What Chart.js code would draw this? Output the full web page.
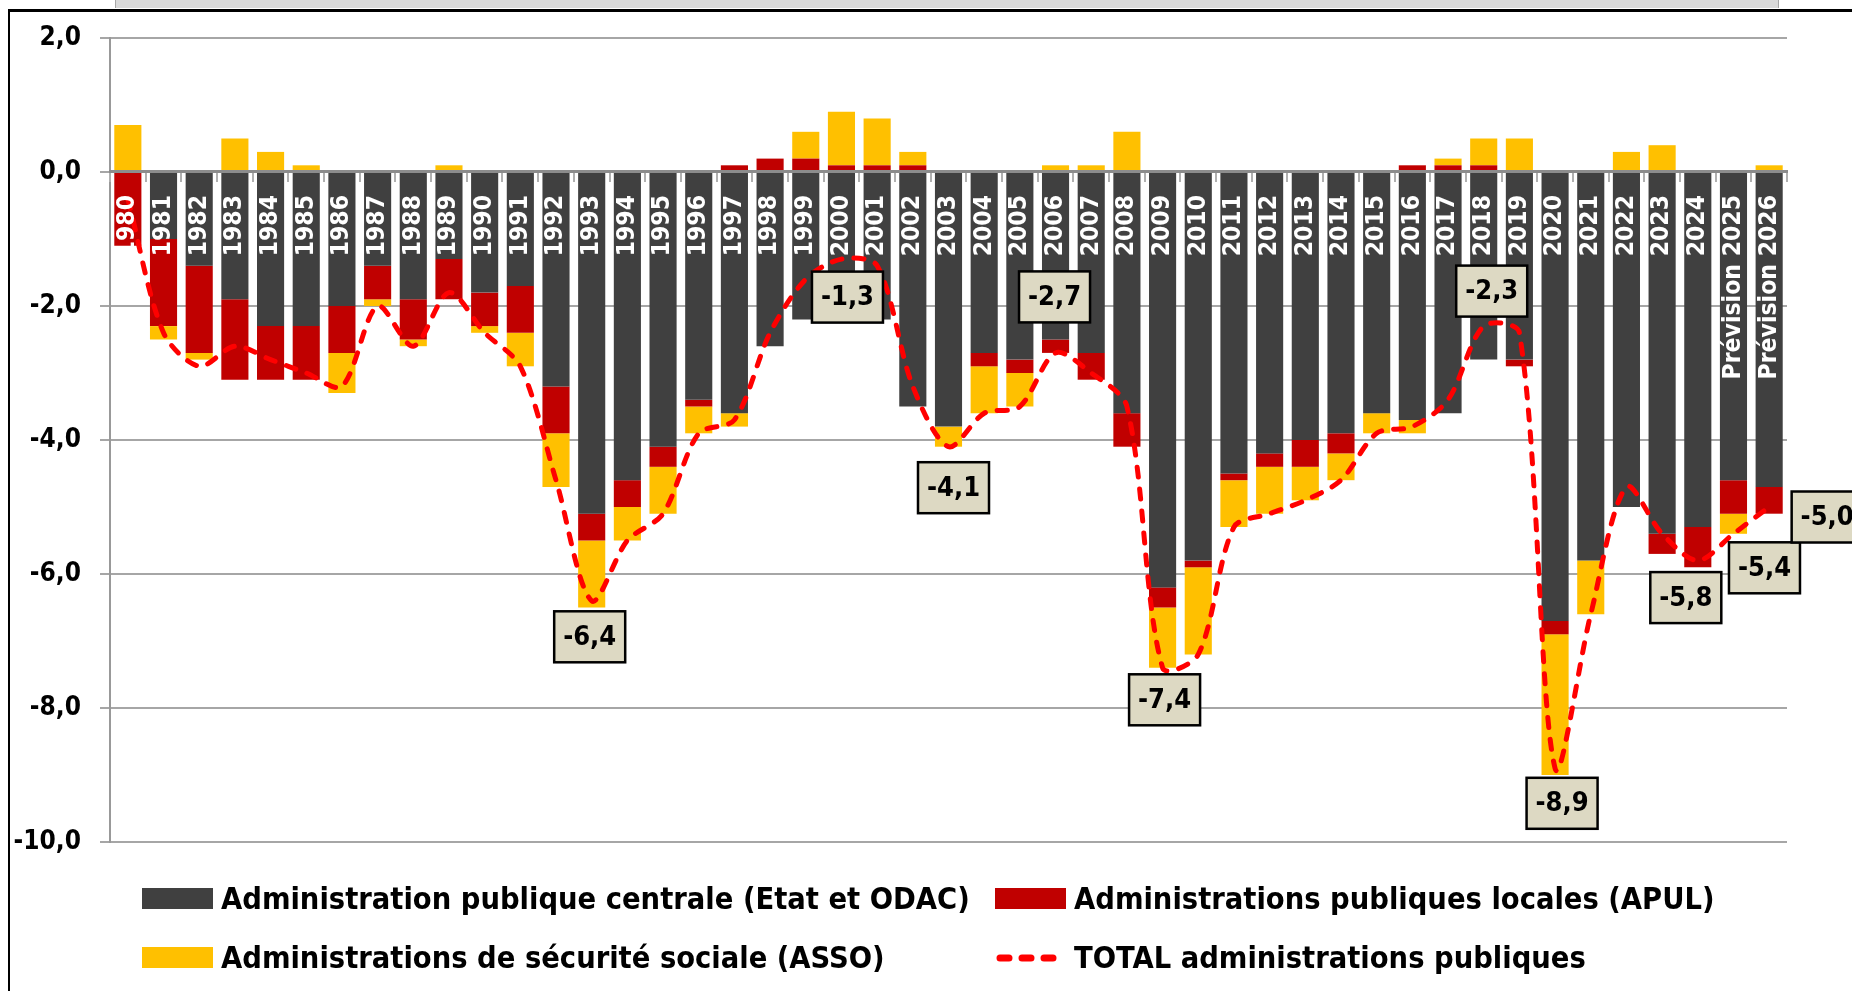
<!DOCTYPE html>
<html lang="fr">
<head>
<meta charset="utf-8">
<title>Solde des administrations publiques</title>
<script src="https://cdn.jsdelivr.net/npm/chart.js@4.4.1/dist/chart.umd.min.js"></script>
<style>
  html, body { margin: 0; padding: 0; background: #fff; }
  body { width: 1852px; height: 991px; position: relative; overflow: hidden; }
  #topbar { position: absolute; left: 115px; top: 0; width: 1662px; height: 8px;
            background: #d9d9d9; border-left: 1px solid #a6a6a6; border-right: 1px solid #a6a6a6; }
  #frame { position: absolute; left: 8px; top: 9px; right: 0; bottom: 0;
           border-left: 2px solid #000; border-top: 3px solid #000; }
  #myChart { position: absolute; left: 0; top: 0; }
  .leg { position: absolute; font-family: 'DejaVu Sans Condensed', 'DejaVu Sans', sans-serif;
         font-weight: bold; font-size: 30.5px; color: #000; white-space: nowrap; line-height: 36px; }
  .key { position: absolute; }
</style>
</head>
<body>
<div id="topbar"></div>
<div id="frame"></div>
<canvas id="myChart" width="1852" height="991"></canvas>
<div id="legend"></div>
<script>
var font = "'DejaVu Sans Condensed', 'DejaVu Sans', sans-serif"

var years = ['1980', '1981', '1982', '1983', '1984', '1985', '1986', '1987', '1988', '1989',
  '1990', '1991', '1992', '1993', '1994', '1995', '1996', '1997', '1998', '1999',
  '2000', '2001', '2002', '2003', '2004', '2005', '2006', '2007', '2008', '2009',
  '2010', '2011', '2012', '2013', '2014', '2015', '2016', '2017', '2018', '2019',
  '2020', '2021', '2022', '2023', '2024', 'Prévision 2025', 'Prévision 2026']

// Administration publique centrale (Etat et ODAC)
var apuc = [0.0, -1.0, -1.4, -1.9, -2.3, -2.3, -2.0, -1.4, -1.9, -1.3,
  -1.8, -1.7, -3.2, -5.1, -4.6, -4.1, -3.4, -3.6, -2.6, -2.2,
  -2.2, -2.2, -3.5, -3.8, -2.7, -2.8, -2.5, -2.7, -3.6, -6.2,
  -5.8, -4.5, -4.2, -4.0, -3.9, -3.6, -3.7, -3.6, -2.8, -2.8,
  -6.7, -5.8, -5.0, -5.4, -5.3, -4.6, -4.7]

// Administrations publiques locales (APUL)
var apul = [-1.1, -1.3, -1.3, -1.2, -0.8, -0.8, -0.7, -0.5, -0.6, -0.6,
  -0.5, -0.7, -0.7, -0.4, -0.4, -0.3, -0.1, 0.1, 0.2, 0.2,
  0.1, 0.1, 0.1, 0.0, -0.2, -0.2, -0.2, -0.4, -0.5, -0.3,
  -0.1, -0.1, -0.2, -0.4, -0.3, 0.0, 0.1, 0.1, 0.1, -0.1,
  -0.2, 0.0, 0.0, -0.3, -0.6, -0.5, -0.4]

// Administrations de sécurité sociale (ASSO)
var asso = [0.7, -0.2, -0.1, 0.5, 0.3, 0.1, -0.6, -0.1, -0.1, 0.1,
  -0.1, -0.5, -0.8, -1.0, -0.5, -0.7, -0.4, -0.2, 0.0, 0.4,
  0.8, 0.7, 0.2, -0.3, -0.7, -0.5, 0.1, 0.1, 0.6, -0.9,
  -1.3, -0.7, -0.7, -0.5, -0.4, -0.3, -0.2, 0.1, 0.4, 0.5,
  -2.1, -0.8, 0.3, 0.4, 0.0, -0.3, 0.1]

// TOTAL administrations publiques
var total = [-0.4, -2.4, -2.9, -2.6, -2.8, -3.0, -3.2, -2.0, -2.6, -1.8,
  -2.4, -2.9, -4.6, -6.4, -5.5, -5.1, -3.9, -3.7, -2.4, -1.6,
  -1.3, -1.4, -3.2, -4.1, -3.6, -3.5, -2.7, -3.0, -3.5, -7.4,
  -7.2, -5.3, -5.1, -4.9, -4.6, -3.9, -3.8, -3.4, -2.3, -2.4,
  -8.9, -6.6, -4.7, -5.4, -5.8, -5.4, -5.0]

var seriesNames = ['Administration publique centrale (Etat et ODAC)',
  'Administrations publiques locales (APUL)',
  'Administrations de sécurité sociale (ASSO)',
  'TOTAL administrations publiques']
var seriesColors = ['#404040', '#C00000', '#FFC000', '#FF0000']

// years whose total is shown in a box, with the box offset from the point
var boxedYears = ['1993', '2000', '2003', '2006', '2009', '2018', '2020', '2024', 'Prévision 2025', 'Prévision 2026']
var boxOffsets = [[-2, 36], [6, 38], [5, 41], [-1, -56], [2, 32], [8, -35], [7, 35], [-12, 37], [31, 34], [58, 10]]

function fmt(v) {
      return v.toFixed(1).replace('.', ',')
}

var boxLabels = {
      id: 'boxLabels',
      afterDraw: function (chart) {
            var ctx = chart.ctx
            var meta = chart.getDatasetMeta(3)
            ctx.save()
            ctx.font = 'bold 27px ' + font
            ctx.textAlign = 'center'
            ctx.textBaseline = 'middle'
            boxedYears.forEach(function (y, k) {
                  var i = years.indexOf(y)
                  var pt = meta.data[i]
                  var cx = pt.x + boxOffsets[k][0]
                  var cy = pt.y + boxOffsets[k][1]
                  var w = 71, h = 51
                  ctx.fillStyle = '#DDD9C3'
                  ctx.fillRect(cx - w / 2, cy - h / 2, w, h)
                  ctx.lineWidth = 2.5
                  ctx.strokeStyle = '#000'
                  ctx.strokeRect(cx - w / 2, cy - h / 2, w, h)
                  ctx.fillStyle = '#000'
                  ctx.fillText(fmt(total[i]), cx, cy + 1)
            })
            ctx.restore()
      }
}

function barSet(k, values) {
      return {
            type: 'bar',
            label: seriesNames[k],
            data: values,
            backgroundColor: seriesColors[k],
            borderWidth: 0,
            stack: 'ap',
            order: 1,
            categoryPercentage: 1,
            barPercentage: 0.76
      }
}

var ctx = document.getElementById('myChart')
var myChart = new Chart(ctx, {
      data: {
            labels: years,
            datasets: [
                  barSet(0, apuc),
                  barSet(1, apul),
                  barSet(2, asso),
                  {
                        type: 'line',
                        label: seriesNames[3],
                        data: total,
                        stack: 'total',
                        order: 0,
                        fill: false,
                        borderColor: seriesColors[3],
                        borderWidth: 5,
                        borderDash: [10, 12],
                        borderCapStyle: 'round',
                        tension: 0.3,
                        pointRadius: 0
                  }
            ]
      },
      options: {
            animation: false,
            responsive: false,
            devicePixelRatio: 1,
            layout: {
                  padding: { left: 0, top: 38, right: 65, bottom: 149 }
            },
            plugins: {
                  legend: { display: false },
                  tooltip: { enabled: false }
            },
            scales: {
                  x: {
                        type: 'category',
                        stacked: true,
                        position: { y: 0 },
                        border: { display: true, color: '#8c8c8c', width: 3, z: 1 },
                        grid: {
                              offset: true,
                              drawOnChartArea: false,
                              drawTicks: true,
                              tickLength: 9,
                              color: '#b0b0b0',
                              lineWidth: 2,
                              z: 1
                        },
                        ticks: {
                              z: 1,
                              autoSkip: false,
                              minRotation: 90,
                              maxRotation: 90,
                              padding: 14,
                              color: '#ffffff',
                              font: { family: font, size: 24.5, weight: 'bold' }
                        }
                  },
                  y: {
                        stacked: true,
                        min: -10,
                        max: 2,
                        afterFit: function (scale) { scale.width = 110 },
                        border: { display: true, color: '#999999', width: 2 },
                        grid: {
                              color: '#a6a6a6',
                              lineWidth: 2,
                              tickLength: 10
                        },
                        ticks: {
                              stepSize: 2,
                              padding: 19,
                              color: '#000',
                              font: { family: font, size: 26, weight: 'bold' },
                              callback: function (v) { return fmt(v) }
                        }
                  }
            }
      },
      plugins: [boxLabels]
})

// legend, laid out in two columns like the original
var legendPos = [[142, 888], [995, 888], [142, 947], [995, 947]]
var legend = document.getElementById('legend')
legendPos.forEach(function (p, k) {
      var key
      if (k < 3) {
            key = document.createElement('div')
            key.className = 'key'
            key.style.cssText = 'left:' + p[0] + 'px;top:' + p[1] + 'px;width:71px;height:21px;background:' + seriesColors[k]
      } else {
            key = document.createElementNS('http://www.w3.org/2000/svg', 'svg')
            key.setAttribute('class', 'key')
            key.setAttribute('width', '71')
            key.setAttribute('height', '21')
            key.style.left = p[0] + 'px'
            key.style.top = p[1] + 'px'
            key.innerHTML = '<line x1="5" y1="11" x2="66" y2="11" stroke="' + seriesColors[3] +
                  '" stroke-width="7" stroke-linecap="round" stroke-dasharray="9 13"/>'
      }
      legend.appendChild(key)
      var txt = document.createElement('div')
      txt.className = 'leg'
      txt.style.left = (p[0] + 79) + 'px'
      txt.style.top = (p[1] - 7) + 'px'
      txt.textContent = seriesNames[k]
      legend.appendChild(txt)
})
</script>
</body>
</html>
